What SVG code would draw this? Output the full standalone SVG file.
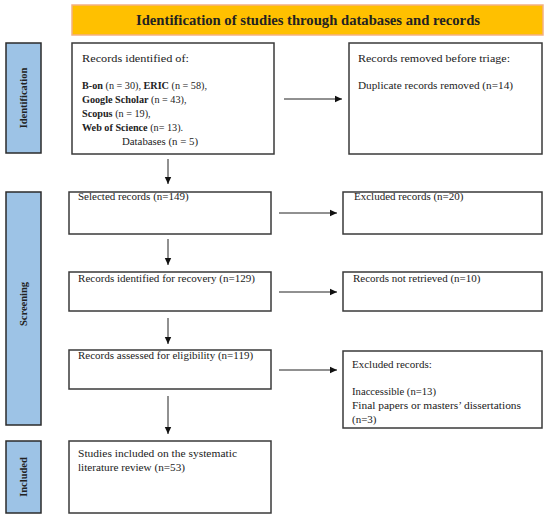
<svg xmlns="http://www.w3.org/2000/svg" width="550" height="519" viewBox="0 0 550 519">
<defs>
<marker id="ah" markerWidth="8" markerHeight="8" refX="7" refY="4" orient="auto" markerUnits="userSpaceOnUse">
<path d="M0,0.8 L7,4 L0,7.2 Z" fill="#111"/>
</marker>
<style>
.box{fill:#fff;stroke:#3a3a3a;stroke-width:1.5}
.side{fill:#9dc3e6;stroke:#2b2b2b;stroke-width:1.5}
.banner{fill:#ffc000;stroke:#f4b183;stroke-width:1.5}
.t{font-family:"Liberation Serif","DejaVu Serif",serif;font-size:11px;fill:#222}
.s{font-size:10.2px}
.b{font-weight:bold}
.st{font-family:"Liberation Serif","DejaVu Serif",serif;font-size:10.5px;font-weight:bold;fill:#222}
.title{font-family:"Liberation Serif","DejaVu Serif",serif;font-size:14.5px;font-weight:bold;fill:#222}
.c{stroke:#222;stroke-width:1;fill:none}
</style>
</defs>
<rect width="550" height="519" fill="#fff"/>

<g id="banner">
<rect class="banner" x="72" y="5" width="471" height="30"/>
<text class="title" x="136" y="25" textLength="344" lengthAdjust="spacingAndGlyphs">Identification of studies through databases and records</text>
</g>

<g id="side-identification">
<rect class="side" x="6" y="43" width="35" height="110"/>
<text class="st" transform="translate(23.5,98) rotate(-90)" text-anchor="middle" dominant-baseline="central">Identification</text>
</g>
<g id="side-screening">
<rect class="side" x="6" y="192" width="35" height="233"/>
<text class="st" transform="translate(23.5,304) rotate(-90)" text-anchor="middle" dominant-baseline="central">Screening</text>
</g>
<g id="side-included">
<rect class="side" x="6" y="441" width="35" height="72"/>
<text class="st" transform="translate(23.5,477) rotate(-90)" text-anchor="middle" dominant-baseline="central">Included</text>
</g>

<g id="records-identified">
<rect class="box" x="72" y="43" width="202" height="111"/>
<text class="t" x="82" y="62" textLength="107" lengthAdjust="spacingAndGlyphs">Records identified of:</text>
<text class="t s" x="82" y="89"><tspan class="b">B-on</tspan> (n = 30), <tspan class="b">ERIC</tspan> (n = 58),</text>
<text class="t s" x="82" y="103"><tspan class="b">Google Scholar</tspan> (n = 43),</text>
<text class="t s" x="82" y="117"><tspan class="b">Scopus</tspan> (n = 19),</text>
<text class="t s" x="82" y="131"><tspan class="b">Web of Science</tspan> (n= 13).</text>
<text class="t" x="122" y="145" textLength="76" lengthAdjust="spacingAndGlyphs">Databases (n = 5)</text>
</g>

<g id="records-removed">
<rect class="box" x="349" y="43" width="193" height="111"/>
<text class="t" x="358" y="62" textLength="152" lengthAdjust="spacingAndGlyphs">Records removed before triage:</text>
<text class="t" x="358" y="89" textLength="155" lengthAdjust="spacingAndGlyphs">Duplicate records removed (n=14)</text>
</g>

<g id="selected">
<rect class="box" x="69" y="192" width="202" height="42"/>
<text class="t" x="78" y="200">Selected records (n=149)</text>
</g>
<g id="excluded1">
<rect class="box" x="343" y="192" width="199" height="42"/>
<text class="t" x="354" y="200">Excluded records (n=20)</text>
</g>

<g id="recovery">
<rect class="box" x="69" y="272" width="202" height="39"/>
<text class="t" x="78" y="282" textLength="177" lengthAdjust="spacingAndGlyphs">Records identified for recovery (n=129)</text>
</g>
<g id="not-retrieved">
<rect class="box" x="343" y="272" width="199" height="39"/>
<text class="t" x="353" y="282">Records not retrieved (n=10)</text>
</g>

<g id="assessed">
<rect class="box" x="69" y="350" width="202" height="39"/>
<text class="t" x="78" y="359">Records assessed for eligibility (n=119)</text>
</g>
<g id="excluded2">
<rect class="box" x="343" y="351" width="199" height="77"/>
<text class="t" x="352" y="368">Excluded records:</text>
<text class="t" x="352" y="395" textLength="84" lengthAdjust="spacingAndGlyphs">Inaccessible (n=13)</text>
<text class="t" x="352" y="409" textLength="169" lengthAdjust="spacingAndGlyphs">Final papers or masters’ dissertations</text>
<text class="t" x="352" y="423">(n=3)</text>
</g>

<g id="included">
<rect class="box" x="69" y="441" width="202" height="72"/>
<text class="t" x="78" y="457" textLength="159" lengthAdjust="spacingAndGlyphs">Studies included on the systematic</text>
<text class="t" x="78" y="471" textLength="107" lengthAdjust="spacingAndGlyphs">literature review (n=53)</text>
</g>

<g id="connectors">
<line class="c" x1="284" y1="99" x2="342" y2="99" marker-end="url(#ah)"/>
<line class="c" x1="279" y1="213" x2="337" y2="213" marker-end="url(#ah)"/>
<line class="c" x1="279" y1="292" x2="337" y2="292" marker-end="url(#ah)"/>
<line class="c" x1="279" y1="370" x2="337" y2="370" marker-end="url(#ah)"/>
<line class="c" x1="168" y1="159" x2="168" y2="184" marker-end="url(#ah)"/>
<line class="c" x1="168" y1="239" x2="168" y2="265" marker-end="url(#ah)"/>
<line class="c" x1="168" y1="318" x2="168" y2="344" marker-end="url(#ah)"/>
<line class="c" x1="168" y1="396" x2="168" y2="434" marker-end="url(#ah)"/>
</g>
</svg>
